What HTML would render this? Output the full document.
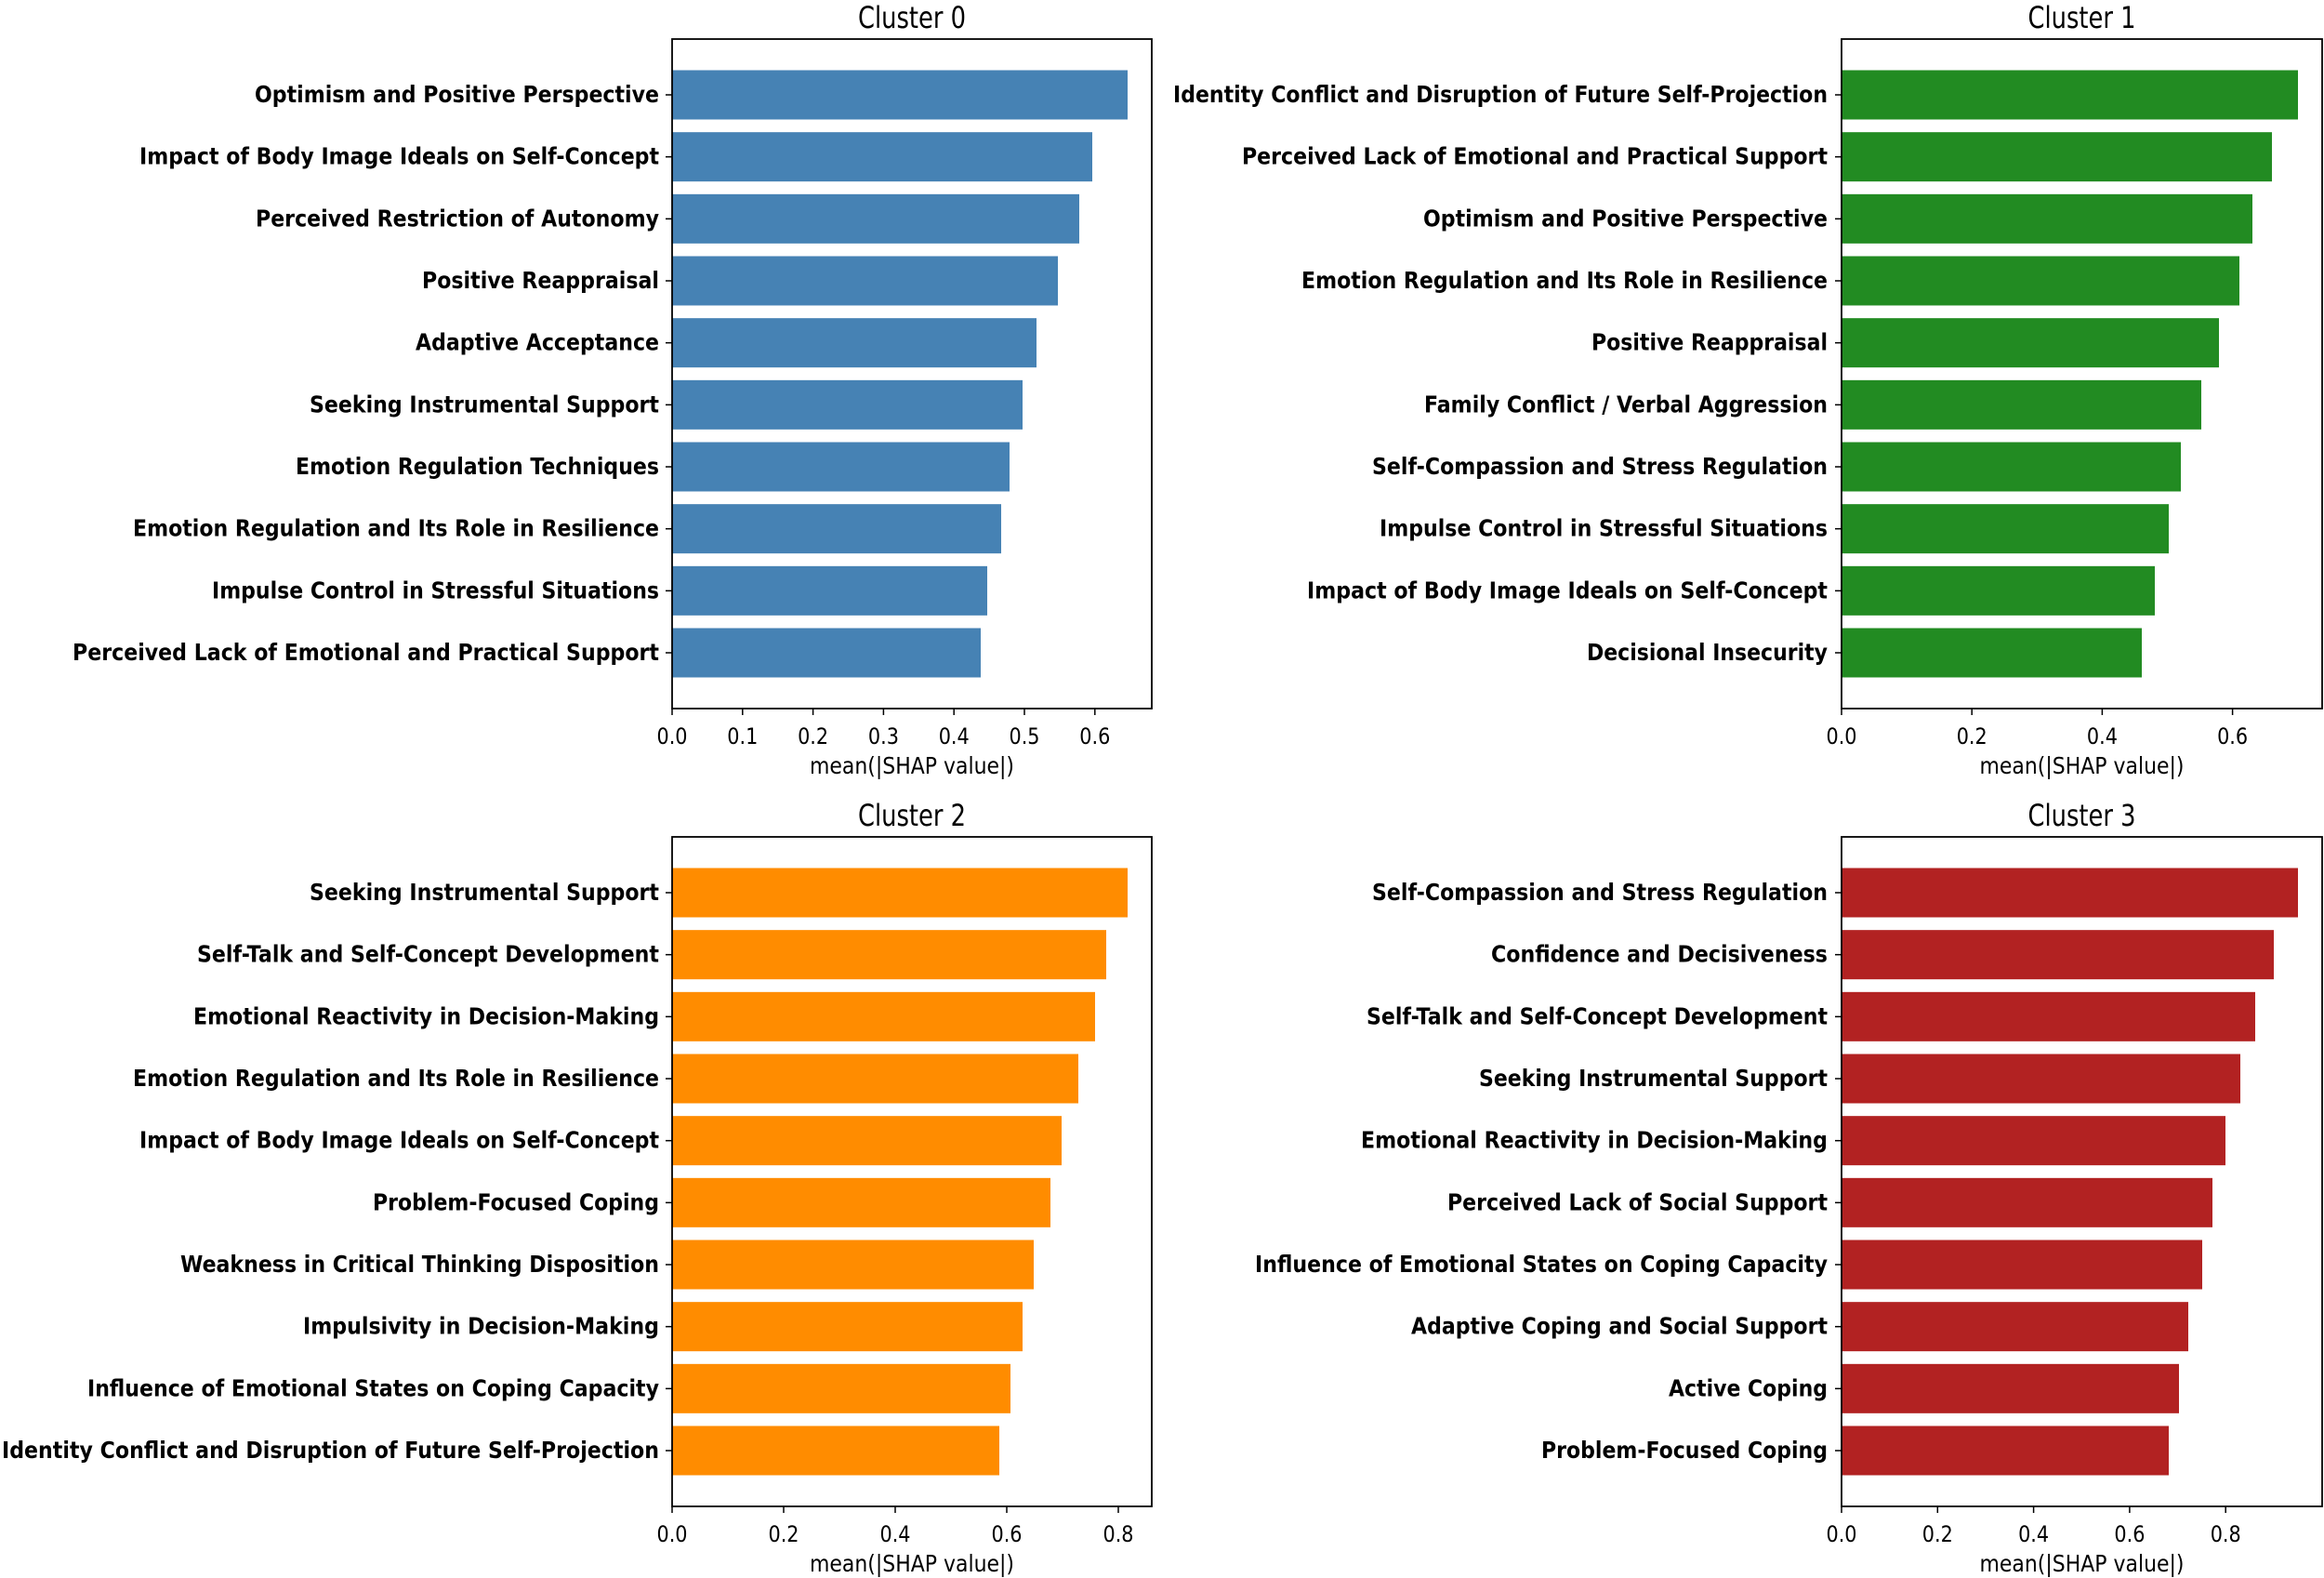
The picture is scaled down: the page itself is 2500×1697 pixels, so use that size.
<!DOCTYPE html>
<html><head><meta charset="utf-8"><style>
html,body{margin:0;padding:0;background:#fff;}
svg{display:block;}
text{font-family:"DejaVu Sans","Liberation Sans",sans-serif;fill:#000;}
.lab{font-weight:bold;font-size:25px;}
.tick{font-size:24px;}
.xl{font-size:25px;}
.tt{font-size:32px;}
</style></head><body>
<svg id="s" width="2500" height="1697" xmlns="http://www.w3.org/2000/svg"></svg>
<script>
var panels=[
{t:"Cluster 0",L:723,R:1239,T:42,B:762,c:"#4682b4",end:709,ppu:758,step:0.1,n:7,
labs:["Optimism and Positive Perspective","Impact of Body Image Ideals on Self-Concept","Perceived Restriction of Autonomy","Positive Reappraisal","Adaptive Acceptance","Seeking Instrumental Support","Emotion Regulation Techniques","Emotion Regulation and Its Role in Resilience","Impulse Control in Stressful Situations","Perceived Lack of Emotional and Practical Support"],
w:[435,559,434,255,262,376,391,566,481,631],
e:[1213,1175,1161,1138,1115,1100,1086,1077,1062,1055]},
{t:"Cluster 1",L:1981,R:2498,T:42,B:762,c:"#228b22",end:1966,ppu:701,step:0.2,n:4,
labs:["Identity Conflict and Disruption of Future Self-Projection","Perceived Lack of Emotional and Practical Support","Optimism and Positive Perspective","Emotion Regulation and Its Role in Resilience","Positive Reappraisal","Family Conflict / Verbal Aggression","Self-Compassion and Stress Regulation","Impulse Control in Stressful Situations","Impact of Body Image Ideals on Self-Concept","Decisional Insecurity"],
w:[704,630,435,566,254,434,490,482,560,259],
e:[2472,2444,2423,2409,2387,2368,2346,2333,2318,2304]},
{t:"Cluster 2",L:723,R:1239,T:900,B:1620,c:"#ff8c00",end:709,ppu:600,step:0.2,n:5,
labs:["Seeking Instrumental Support","Self-Talk and Self-Concept Development","Emotional Reactivity in Decision-Making","Emotion Regulation and Its Role in Resilience","Impact of Body Image Ideals on Self-Concept","Problem-Focused Coping","Weakness in Critical Thinking Disposition","Impulsivity in Decision-Making","Influence of Emotional States on Coping Capacity","Identity Conflict and Disruption of Future Self-Projection"],
w:[376,497,501,566,559,308,515,383,615,707],
e:[1213,1190,1178,1160,1142,1130,1112,1100,1087,1075]},
{t:"Cluster 3",L:1981,R:2498,T:900,B:1620,c:"#b22222",end:1966,ppu:516.5,step:0.2,n:5,
labs:["Self-Compassion and Stress Regulation","Confidence and Decisiveness","Self-Talk and Self-Concept Development","Seeking Instrumental Support","Emotional Reactivity in Decision-Making","Perceived Lack of Social Support","Influence of Emotional States on Coping Capacity","Adaptive Coping and Social Support","Active Coping","Problem-Focused Coping"],
w:[490,362,496,375,502,409,616,448,171,308],
e:[2472,2446,2426,2410,2394,2380,2369,2354,2344,2333]}
];
var h="";
panels.forEach(function(p){
  var cx=(p.L+p.R)/2, sp=(p.B-p.T-120)/9;
  h+='<text class="tt" x="'+cx+'" y="'+(p.T-12)+'" text-anchor="middle" textLength="116" lengthAdjust="spacingAndGlyphs">'+p.t+'</text>';
  for(var i=0;i<10;i++){
    var cy=p.T+60+i*sp;
    h+='<rect x="'+p.L+'" y="'+(cy-26.5)+'" width="'+(p.e[i]-p.L)+'" height="53" fill="'+p.c+'"/>';
    h+='<line x1="'+(p.L-7)+'" x2="'+p.L+'" y1="'+cy+'" y2="'+cy+'" stroke="#000" stroke-width="1.5"/>';
    h+='<text class="lab" x="'+p.end+'" y="'+(cy+8)+'" text-anchor="end" textLength="'+p.w[i]+'" lengthAdjust="spacingAndGlyphs">'+p.labs[i]+'</text>';
  }
  h+='<rect x="'+p.L+'" y="'+p.T+'" width="'+(p.R-p.L)+'" height="'+(p.B-p.T)+'" fill="none" stroke="#000" stroke-width="1.8"/>';
  for(var k=0;k<p.n;k++){
    var v=k*p.step, x=p.L+v*p.ppu;
    h+='<line x1="'+x+'" x2="'+x+'" y1="'+p.B+'" y2="'+(p.B+7)+'" stroke="#000" stroke-width="1.5"/>';
    h+='<text class="tick" x="'+x+'" y="'+(p.B+38)+'" text-anchor="middle" textLength="33" lengthAdjust="spacingAndGlyphs">'+v.toFixed(1)+'</text>';
  }
  h+='<text class="xl" x="'+cx+'" y="'+(p.B+70)+'" text-anchor="middle" textLength="220" lengthAdjust="spacingAndGlyphs">mean(|SHAP value|)</text>';
});
document.getElementById("s").innerHTML=h;
</script>
</body></html>
